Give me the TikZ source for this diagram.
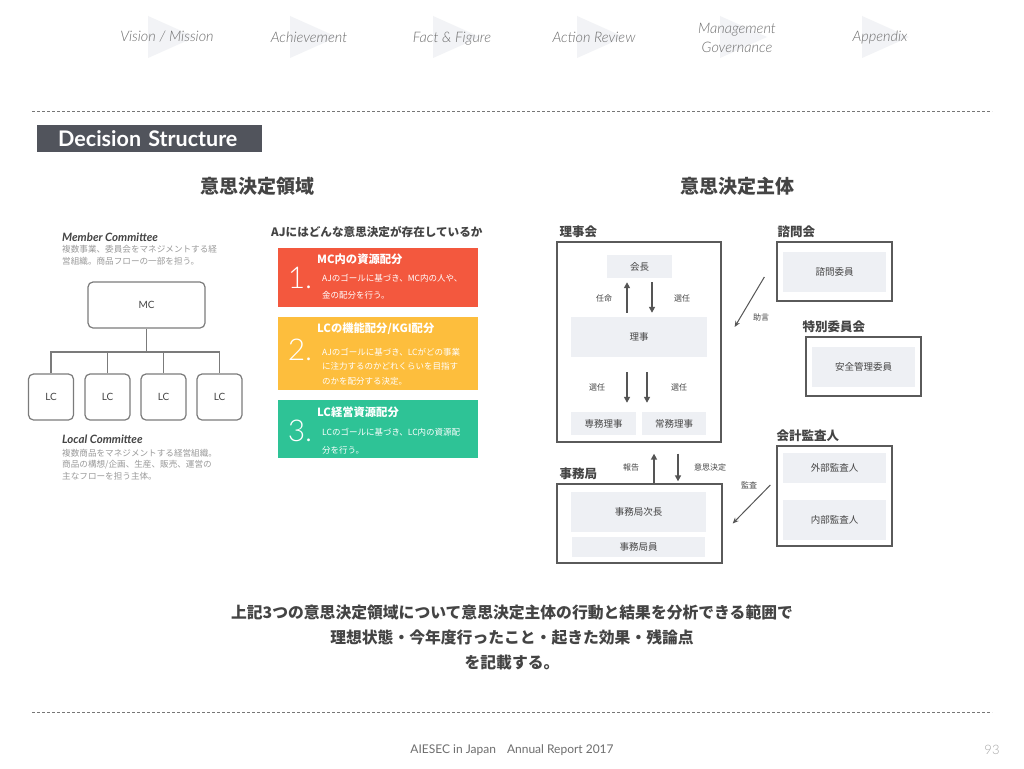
\documentclass[tikz,border=0pt]{standalone}
\usepackage{fontspec}
\setmainfont{Lato}
\newfontfamily\latolight{Lato Light}
\newfontfamily\jp{Noto Sans CJK JP}
\usetikzlibrary{arrows.meta}
\definecolor{txt}{HTML}{444444}
\definecolor{jgray}{HTML}{9A9A9A}
\definecolor{boxgray}{HTML}{EEF0F4}
\definecolor{framec}{HTML}{5A5A5A}
\definecolor{arrc}{HTML}{555555}
\definecolor{cred}{HTML}{F3583E}
\definecolor{cyellow}{HTML}{FDBE3D}
\definecolor{cgreen}{HTML}{2EC396}
\definecolor{titlebg}{HTML}{51545C}
\definecolor{navtri}{HTML}{F2F3F6}
\definecolor{navtxt}{HTML}{6E6E6E}
\definecolor{dashc}{HTML}{777777}
\newcommand\fsz[2]{\fontsize{#1}{#2}\selectfont}
\tikzset{
  navlabel/.style={font=\latolight\itshape\fsz{14.5}{19}, text=navtxt, align=center, inner sep=0},
  sepline/.style={draw=dashc, line width=1pt, dash pattern=on 3pt off 2pt},
  heading/.style={font=\jp\bfseries\fsz{19}{22}, text=txt, inner sep=0},
  lctitle/.style={font=\bfseries\itshape\fsz{11.5}{13}, text=txt, anchor=west, inner sep=0},
  lcnote/.style={font=\jp\fsz{8.6}{11.5}, text=jgray, anchor=west, align=left, inner sep=0},
  treebox/.style={draw=framec!80, line width=1.2pt, rounded corners=5pt, fill=white, font=\fsz{10}{12}, text=txt},
  treeline/.style={draw=framec!80, line width=1.1pt},
  cbox/.style={minimum width=200pt, inner sep=0},
  cnum/.style={font=\latolight\fsz{30}{32}, text=white, inner sep=0},
  ctitle/.style={font=\jp\bfseries\fsz{11.3}{12}, text=white, anchor=west, inner sep=0},
  cbody/.style={font=\jp\fsz{8.5}{14}, text=white, anchor=west, align=left, inner sep=0},
  frame/.style={draw=framec, line width=1.3pt, inner sep=0},
  gbox/.style={fill=boxgray, font=\jp\fsz{9.5}{11}, text=txt, inner sep=0},
  grouplabel/.style={font=\jp\bfseries\fsz{12.5}{14}, text=txt, anchor=south west, inner sep=0},
  arrlabel/.style={font=\jp\fsz{8}{10}, text=txt, inner sep=0},
  arr/.style={draw=arrc, line width=1.7pt, -{Triangle[length=6pt,width=6pt]}},
  thinarr/.style={draw=arrc, line width=1pt, -{Stealth[length=6pt,width=5pt]}},
}
\begin{document}
\begin{tikzpicture}[x=1pt,y=-1pt]
\useasboundingbox[fill=white] (0,0) rectangle (1024,768);

% navigation
\foreach \x in {148,290,433,577,720,862}{
  \fill[navtri] (\x,16) -- (\x+47,37) -- (\x,58) -- cycle;
}
\node[navlabel] (nav1) at (167,37) {Vision / Mission};
\node[navlabel] (nav2) at (309,37) {Achievement};
\node[navlabel] (nav3) at (452,39) {Fact \& Figure};
\node[navlabel] (nav4) at (594,37) {Action Review};
\node[navlabel] (nav5) at (737,38) {Management\\Governance};
\node[navlabel] (nav6) at (880,38) {Appendix};

\draw[sepline] (32,111) -- (992,111);
\draw[sepline] (32,712) -- (992,712);

% title
\node[fill=titlebg, text=white, font=\bfseries\fsz{21.5}{22}, anchor=north west,
      minimum height=27pt, text width=183pt, inner xsep=21pt, inner ysep=0, align=left]
      (title) at (37,125) {Decision Structure};

\node[heading] (h1) at (257,186) {意思決定領域};
\node[heading] (h2) at (737,186) {意思決定主体};

% left panel
\node[lctitle] (mct) at (62,237) {Member Committee};
\node[lcnote] (mcn) at (62,255.5) {複数事業、委員会をマネジメントする経\\営組織。商品フローの一部を担う。};
\node[treebox, minimum width=117pt, minimum height=46pt] (mc) at (146.5,305) {MC};
\node[treebox, minimum width=45pt, minimum height=46pt] (lc1) at (51,397) {LC};
\node[treebox, minimum width=45pt, minimum height=46pt] (lc2) at (107.5,397) {LC};
\node[treebox, minimum width=45pt, minimum height=46pt] (lc3) at (163.5,397) {LC};
\node[treebox, minimum width=45pt, minimum height=46pt] (lc4) at (219.5,397) {LC};
\coordinate (bus) at (146.5,352);
\draw[treeline] (mc.south) -- (bus);
\draw[treeline] (lc1.north) |- (bus) -| (lc4.north);
\draw[treeline] (lc2.north) -- (lc2.north |- bus);
\draw[treeline] (lc3.north) -- (lc3.north |- bus);
\node[lctitle] (lct) at (62,439) {Local Committee};
\node[lcnote] (lcn) at (62,464.5) {複数商品をマネジメントする経営組織。\\商品の構想/企画、生産、販売、運営の\\主なフローを担う主体。};

% middle panel
\node[font=\jp\bfseries\fsz{11.6}{12}, text=txt, anchor=west, inner sep=0] (aj) at (271,232) {AJにはどんな意思決定が存在しているか};
\node[cbox, fill=cred, minimum height=59pt] (b1) at (378,277.5) {};
\node[cnum] (n1) at (300,278) {1.};
\node[ctitle] (t1) at (317,259) {MC内の資源配分};
\node[cbody, font=\jp\fsz{8.5}{17}] (d1) at (322,286.5) {AJのゴールに基づき、MC内の人や、\\金の配分を行う。};

\node[cbox, fill=cyellow, minimum height=73pt] (b2) at (378,353.5) {};
\node[cnum] (n2) at (300,350) {2.};
\node[ctitle] (t2) at (317,329) {LCの機能配分/KGI配分};
\node[cbody, font=\jp\fsz{8.5}{14.5}] (d2) at (322,366.5) {AJのゴールに基づき、LCがどの事業\\に注力するのかどれくらいを目指す\\のかを配分する決定。};

\node[cbox, fill=cgreen, minimum height=58pt] (b3) at (378,429) {};
\node[cnum] (n3) at (300,431) {3.};
\node[ctitle] (t3) at (317,412) {LC経営資源配分};
\node[cbody, font=\jp\fsz{8.5}{18}] (d3) at (322,441) {LCのゴールに基づき、LC内の資源配\\分を行う。};

% right panel
\node[frame, minimum width=164pt, minimum height=200pt] (rijikai) at (639,342) {};
\node[grouplabel] at ([xshift=3pt,yshift=3pt]rijikai.north west) {理事会};
\node[gbox, minimum width=65pt, minimum height=23pt] (kaicho) at (639.5,266.5) {会長};
\node[gbox, minimum width=136pt, minimum height=40pt] (riji) at (639,337) {理事};
\node[gbox, minimum width=65pt, minimum height=23pt] (senmu) at (603.5,423.5) {専務理事};
\node[gbox, minimum width=64pt, minimum height=23pt] (jomu) at (674,423.5) {常務理事};
\draw[arr, shorten <=4pt, shorten >=4pt] ([xshift=-12pt]riji.north) -- ([xshift=-12.5pt]kaicho.south);
\draw[arr, shorten <=4pt, shorten >=4pt] ([xshift=12.5pt]kaicho.south) -- ([xshift=13pt]riji.north);
\node[arrlabel] (l1) at (604,298) {任命};
\node[arrlabel] (l2) at (682,298) {選任};
\draw[arr, shorten <=15pt, shorten >=9pt] ([xshift=-12pt]riji.south) -- ([xshift=-12pt]riji.south |- senmu.north);
\draw[arr, shorten <=15pt, shorten >=9pt] ([xshift=8pt]riji.south) -- ([xshift=8pt]riji.south |- jomu.north);
\node[arrlabel] (l3) at (597,387) {選任};
\node[arrlabel] (l4) at (679,387) {選任};

\node[frame, minimum width=165pt, minimum height=79pt] (jimukyoku) at (639.5,523.5) {};
\node[grouplabel] at ([xshift=3pt,yshift=3pt]jimukyoku.north west) {事務局};
\node[gbox, minimum width=135pt, minimum height=40pt] (jicho) at (638.5,512) {事務局次長};
\node[gbox, minimum width=133pt, minimum height=20pt] (jimuin) at (638.5,547) {事務局員};
\draw[arr, shorten >=11pt] ([xshift=14.5pt]jimukyoku.north) -- ([xshift=14.5pt]jimukyoku.north |- rijikai.south);
\draw[arr, shorten <=11pt, shorten >=2pt] ([xshift=38.5pt]jimukyoku.north |- rijikai.south) -- ([xshift=38.5pt]jimukyoku.north);
\node[arrlabel] (l5) at (631,467) {報告};
\node[arrlabel] (l6) at (710,467) {意思決定};

\node[frame, minimum width=115pt, minimum height=59pt] (shingikai) at (834.5,271.5) {};
\node[grouplabel] at ([xshift=1pt,yshift=3pt]shingikai.north west) {諮問会};
\node[gbox, minimum width=103pt, minimum height=40pt] (shingiiin) at (834.5,272) {諮問委員};

\node[frame, minimum width=115pt, minimum height=59pt] (tokubetsu) at (863.5,366.5) {};
\node[grouplabel] at ([xshift=-3pt,yshift=3pt]tokubetsu.north west) {特別委員会};
\node[gbox, minimum width=103pt, minimum height=40pt] (anzen) at (863.5,367) {安全管理委員};

\node[frame, minimum width=115pt, minimum height=100pt] (kaikei) at (834.5,496) {};
\node[grouplabel] at ([xshift=0pt,yshift=3pt]kaikei.north west) {会計監査人};
\node[gbox, minimum width=103pt, minimum height=30pt] (gaibu) at (834.5,468) {外部監査人};
\node[gbox, minimum width=103pt, minimum height=40pt] (naibu) at (834.5,520) {内部監査人};

\draw[thinarr] ([xshift=-12pt,yshift=-5.5pt]shingikai.west) -- ([xshift=13pt,yshift=15pt]rijikai.east);
\node[arrlabel] (l7) at (761,317) {助言};
\draw[thinarr] ([xshift=-6pt,yshift=11pt]kaikei.west) -- ([xshift=10pt]jimukyoku.east);
\node[arrlabel] (l8) at (749,485) {監査};

% bottom text
\node[font=\jp\bfseries\fsz{15.8}{25}, text=txt, align=center, inner sep=0] (summary) at (512,637)
  {上記3つの意思決定領域について意思決定主体の行動と結果を分析できる範囲で\\理想状態・今年度行ったこと・起きた効果・残論点\\を記載する。};

% footer
\node[font=\fsz{12}{14}, text=navtxt, inner sep=0] (foot) at (512,750) {AIESEC in Japan\hspace{11pt}Annual Report 2017};
\node[font=\latolight\fsz{13}{14}, text=black!35, inner sep=0] (page) at (992,750) {93};
\end{tikzpicture}
\end{document}
